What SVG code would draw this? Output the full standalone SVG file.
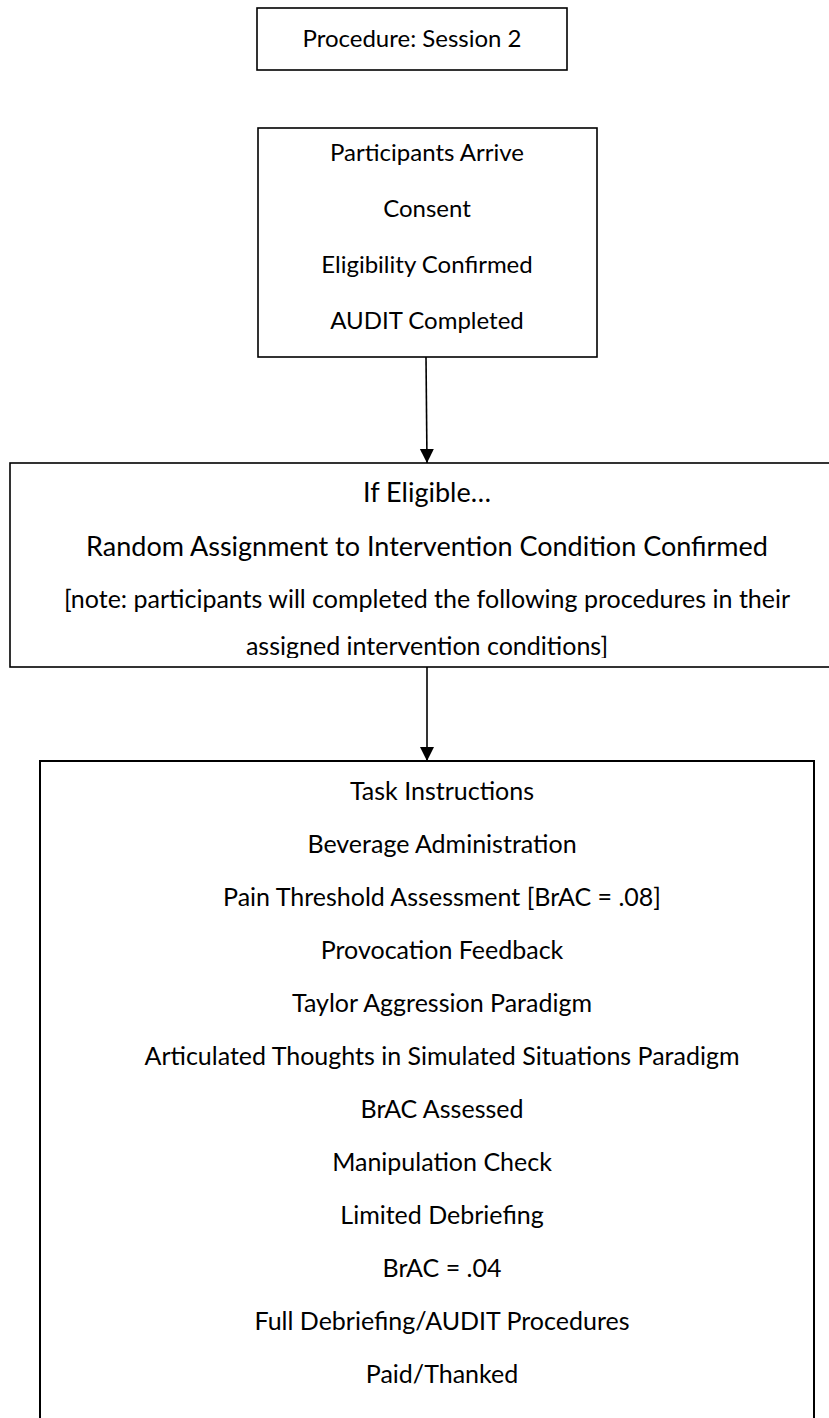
<svg xmlns="http://www.w3.org/2000/svg" width="829" height="1418" viewBox="0 0 829 1418">
<defs>
<style>
.box{fill:#fff;stroke:#000;stroke-width:1.6}
.t{font-family:Lato,"Liberation Sans",sans-serif;fill:#000;text-anchor:middle}
.s24{font-size:24px}
.s27{font-size:27px}
.s25{font-size:25px}
.conn{stroke:#000;stroke-width:1.6;fill:none}
</style>
<marker id="arr" viewBox="0 0 14 15" refX="14" refY="7" markerWidth="14" markerHeight="15" markerUnits="userSpaceOnUse" orient="auto"><path d="M0,0 L14,7 L0,14 Z" fill="#000"/></marker>
<clipPath id="c3"><rect x="0" y="463" width="829" height="195"/></clipPath>
</defs>
<rect width="829" height="1418" fill="#fff"/>
<g id="n1">
<rect class="box" x="257" y="8" width="310" height="62"/>
<text class="t s24" x="412" y="47">Procedure: Session 2</text>
</g>
<g id="n2">
<rect class="box" x="258" y="128" width="339" height="229"/>
<text class="t s24" x="427" y="161">Participants Arrive</text>
<text class="t s24" x="427" y="217">Consent</text>
<text class="t s24" x="427" y="273">Eligibility Confirmed</text>
<text class="t s24" x="427" y="329">AUDIT Completed</text>
</g>
<g id="n3">
<rect class="box" x="10" y="463" width="830" height="204"/>
<g clip-path="url(#c3)">
<text class="t s27" x="427" y="502">If Eligible…</text>
<text class="t s27" x="427" y="556">Random Assignment to Intervention Condition Confirmed</text>
<text class="t s25" x="427" y="608">[note: participants will completed the following procedures in their</text>
<text class="t s25" x="427" y="655">assigned intervention conditions]</text>
</g>
</g>
<g id="n4">
<rect class="box" style="stroke-width:2" x="40" y="761" width="774" height="720"/>
<text class="t s25" x="442" y="800">Task Instructions</text>
<text class="t s25" x="442" y="853">Beverage Administration</text>
<text class="t s25" x="442" y="906">Pain Threshold Assessment [BrAC = .08]</text>
<text class="t s25" x="442" y="959">Provocation Feedback</text>
<text class="t s25" x="442" y="1012">Taylor Aggression Paradigm</text>
<text class="t s25" x="442" y="1065">Articulated Thoughts in Simulated Situations Paradigm</text>
<text class="t s25" x="442" y="1118">BrAC Assessed</text>
<text class="t s25" x="442" y="1171">Manipulation Check</text>
<text class="t s25" x="442" y="1224">Limited Debriefing</text>
<text class="t s25" x="442" y="1277">BrAC = .04</text>
<text class="t s25" x="442" y="1330">Full Debriefing/AUDIT Procedures</text>
<text class="t s25" x="442" y="1383">Paid/Thanked</text>
</g>
<g id="connectors">
<line class="conn" x1="426" y1="357" x2="427" y2="463" marker-end="url(#arr)"/>
<line class="conn" x1="427" y1="667" x2="427" y2="761" marker-end="url(#arr)"/>
</g>
</svg>
